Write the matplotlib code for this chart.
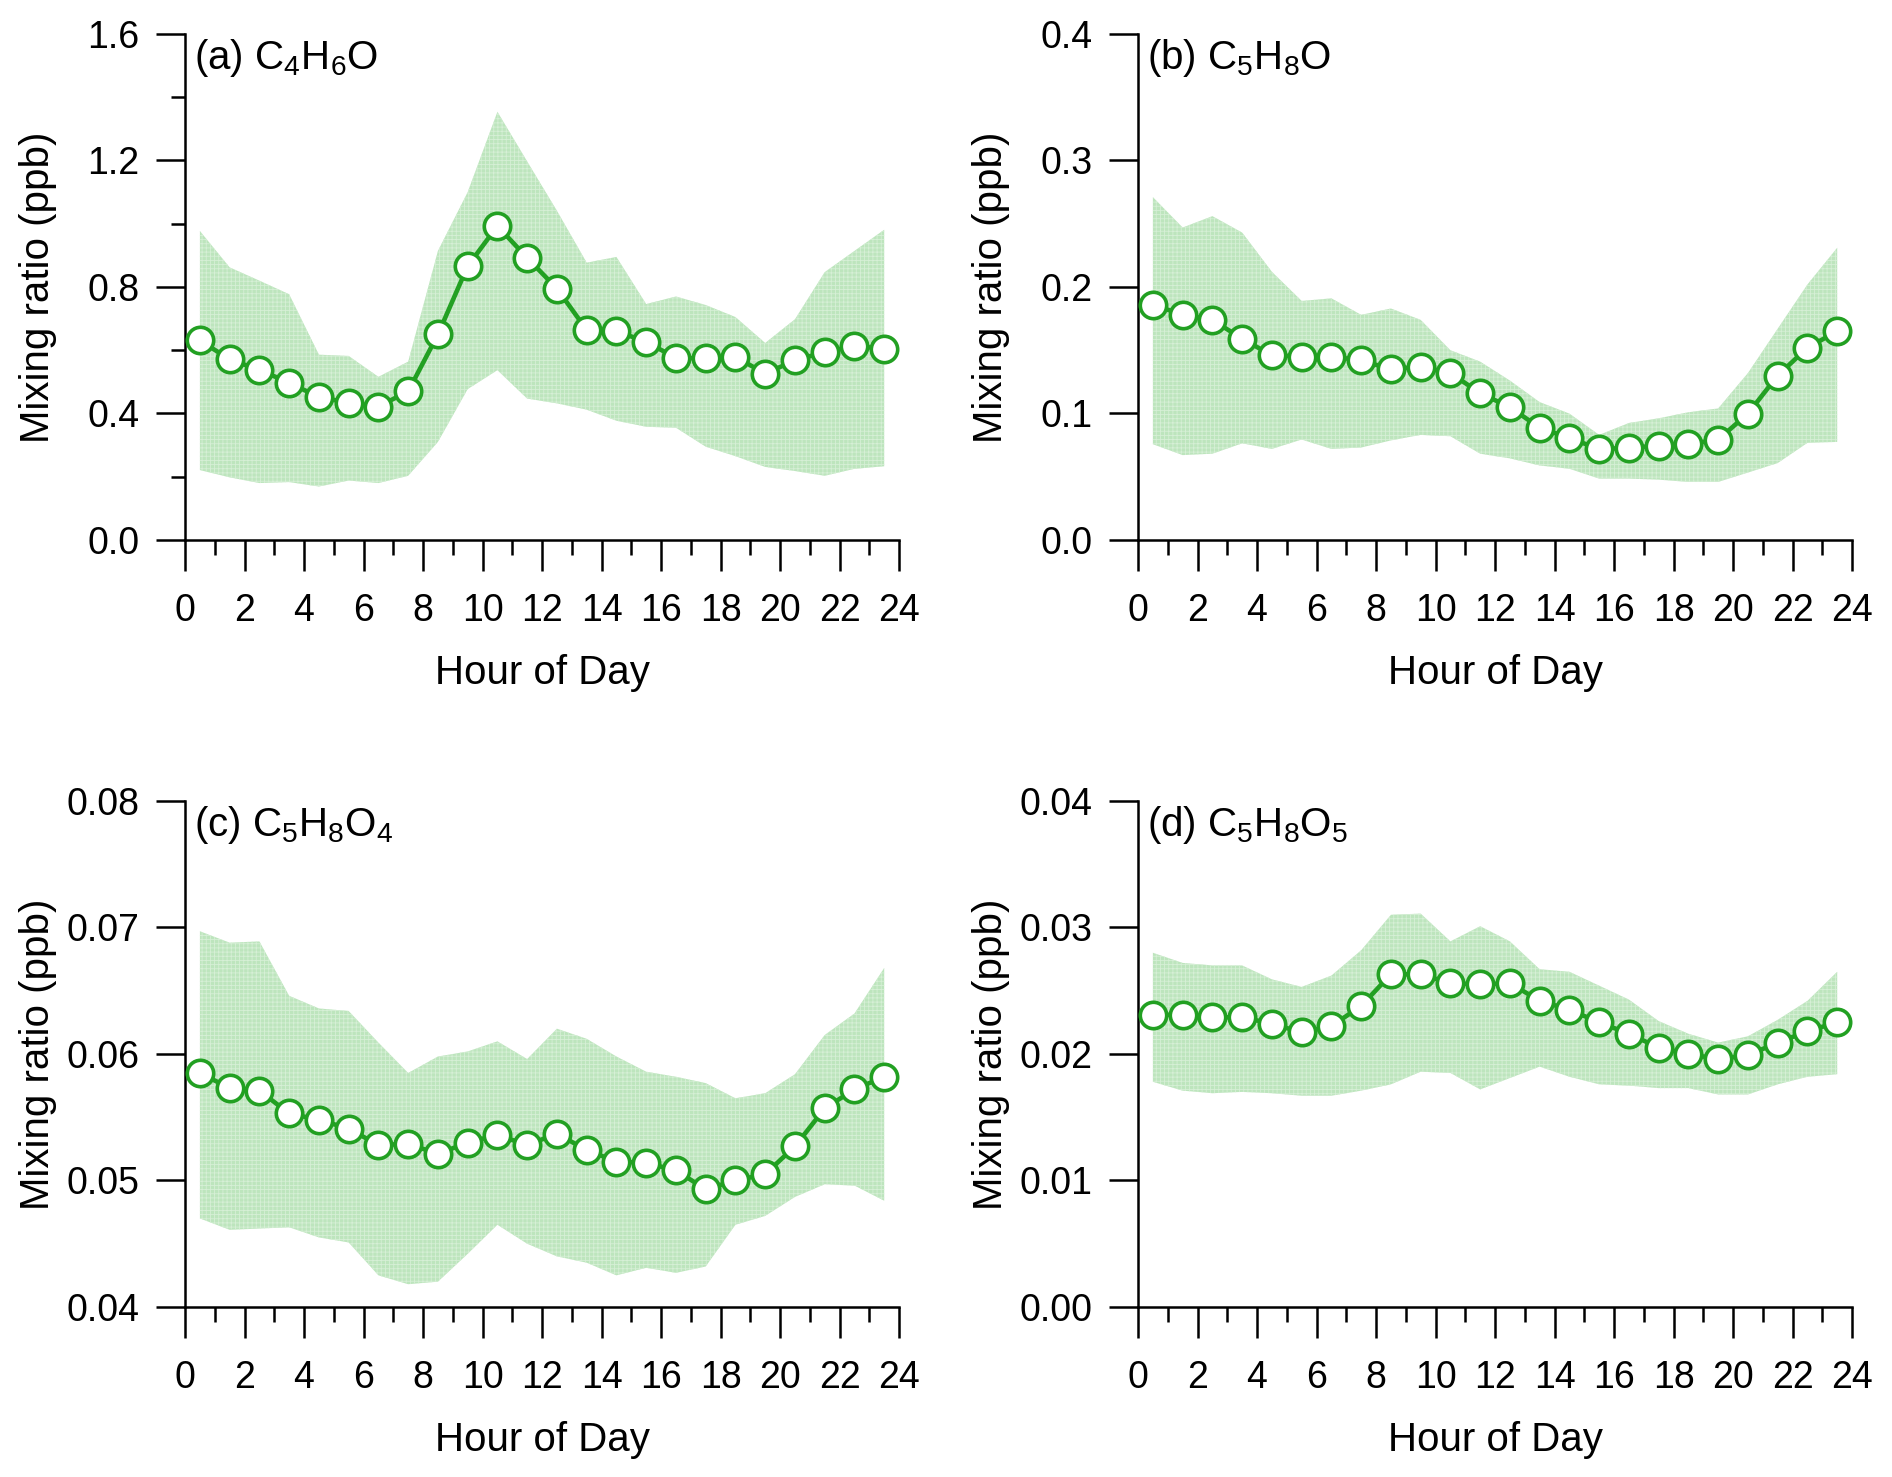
import numpy as np
import matplotlib
matplotlib.use("Agg")
import matplotlib.pyplot as plt
from matplotlib.ticker import MultipleLocator

plt.rcParams["font.family"] = ["Liberation Sans", "DejaVu Sans"]
plt.rcParams["mathtext.fontset"] = "custom"
plt.rcParams["mathtext.rm"] = "Liberation Sans"
plt.rcParams["mathtext.default"] = "regular"
plt.rcParams["hatch.linewidth"] = 0.6

hours = np.arange(24) + 0.5

# (a) C4H6O
a_mean = [0.631, 0.571, 0.538, 0.497, 0.452, 0.434, 0.422, 0.470, 0.650, 0.866, 0.993, 0.892,
          0.795, 0.664, 0.661, 0.626, 0.576, 0.574, 0.579, 0.526, 0.568, 0.594, 0.613, 0.605]
a_high = [0.977, 0.862, 0.820, 0.777, 0.586, 0.582, 0.516, 0.564, 0.914, 1.100, 1.354, 1.197,
          1.041, 0.877, 0.895, 0.746, 0.770, 0.743, 0.705, 0.623, 0.698, 0.847, 0.914, 0.981]
a_low = [0.221, 0.198, 0.180, 0.183, 0.169, 0.188, 0.180, 0.203, 0.310, 0.477, 0.537, 0.447,
         0.432, 0.412, 0.377, 0.358, 0.355, 0.295, 0.265, 0.231, 0.218, 0.203, 0.225, 0.233]

# (b) C5H8O
b_mean = [0.186, 0.178, 0.174, 0.159, 0.146, 0.145, 0.145, 0.142, 0.135, 0.137, 0.132, 0.116,
          0.105, 0.0887, 0.0805, 0.072, 0.0727, 0.0746, 0.0757, 0.0794, 0.0999, 0.130, 0.152, 0.165]
b_high = [0.271, 0.247, 0.256, 0.243, 0.212, 0.189, 0.191, 0.178, 0.183, 0.174, 0.150, 0.141,
          0.126, 0.109, 0.0999, 0.0831, 0.0925, 0.0962, 0.101, 0.104, 0.132, 0.167, 0.202, 0.231]
b_low = [0.0757, 0.0671, 0.0682, 0.0764, 0.072, 0.0794, 0.072, 0.0731, 0.0787, 0.0831, 0.082, 0.0682,
         0.0645, 0.0589, 0.0563, 0.0485, 0.0485, 0.0477, 0.0459, 0.0459, 0.0533, 0.0608, 0.0768, 0.0775]

# (c) C5H8O4
c_mean = [0.0585, 0.0573, 0.0571, 0.0553, 0.0548, 0.0541, 0.0528, 0.0529, 0.0521, 0.0530, 0.0536, 0.0528,
          0.0537, 0.0524, 0.0515, 0.0514, 0.0508, 0.0493, 0.0500, 0.0505, 0.0527, 0.0557, 0.0572, 0.0582]
c_high = [0.0697, 0.0688, 0.0689, 0.0646, 0.0636, 0.0634, 0.0609, 0.0585, 0.0598, 0.0602, 0.0610, 0.0596,
          0.0620, 0.0612, 0.0598, 0.0586, 0.0582, 0.0577, 0.0565, 0.0569, 0.0584, 0.0615, 0.0632, 0.0668]
c_low = [0.0470, 0.0461, 0.0462, 0.0463, 0.0455, 0.0451, 0.0425, 0.0418, 0.0420, 0.0442, 0.0465, 0.0450,
         0.0440, 0.0435, 0.0425, 0.0431, 0.0427, 0.0432, 0.0465, 0.0472, 0.0487, 0.0497, 0.0496, 0.0484]

# (d) C5H8O5
d_mean = [0.0231, 0.0231, 0.0229, 0.0229, 0.0224, 0.0217, 0.0222, 0.0238, 0.0263, 0.0263, 0.0256, 0.0255,
          0.0256, 0.0242, 0.0235, 0.0225, 0.0216, 0.0205, 0.0200, 0.0196, 0.0199, 0.0209, 0.0218, 0.0225]
d_high = [0.0280, 0.0272, 0.0270, 0.0270, 0.0259, 0.0253, 0.0262, 0.0282, 0.0310, 0.0311, 0.0289, 0.0301,
          0.0289, 0.0267, 0.0265, 0.0254, 0.0243, 0.0226, 0.0216, 0.0209, 0.0214, 0.0227, 0.0242, 0.0265]
d_low = [0.0178, 0.0171, 0.0169, 0.0170, 0.0169, 0.0167, 0.0167, 0.0171, 0.0176, 0.0186, 0.0185, 0.0172,
         0.0181, 0.0190, 0.0182, 0.0176, 0.0175, 0.0173, 0.0173, 0.0168, 0.0168, 0.0176, 0.0182, 0.0184]

labels = [r"(a) C$_4$H$_6$O", r"(b) C$_5$H$_8$O", r"(c) C$_5$H$_8$O$_4$", r"(d) C$_5$H$_8$O$_5$"]
ylims = [(0, 1.6), (0, 0.4), (0.04, 0.08), (0, 0.04)]
ymajor = [0.4, 0.1, 0.01, 0.01]
yminor = [0.2, None, None, None]
yfmt = ["%.1f", "%.1f", "%.2f", "%.2f"]

series = [(a_mean, a_low, a_high), (b_mean, b_low, b_high),
          (c_mean, c_low, c_high), (d_mean, d_low, d_high)]

LINE = "#22a022"
FILL = "#bde5bd"

fig = plt.figure(figsize=(18.92, 14.77), dpi=100)
positions = [[0.0978, 0.6344, 0.3774, 0.3426], [0.6015, 0.6344, 0.3774, 0.3426],
             [0.0978, 0.1151, 0.3774, 0.3426], [0.6015, 0.1151, 0.3774, 0.3426]]

for i in range(4):
    ax = fig.add_axes(positions[i])
    mean, low, high = series[i]
    ax.fill_between(hours, low, high, facecolor=FILL, edgecolor="#d6efd6",
                    hatch="++++", linewidth=0, zorder=1)
    ax.plot(hours, mean, "-", color=LINE, lw=3.3, zorder=2)
    ax.plot(hours, mean, "o", ms=19, mfc="white", mec=LINE, mew=2.6, zorder=3)

    ax.set_xlim(0, 24)
    ax.set_ylim(*ylims[i])
    ax.xaxis.set_major_locator(MultipleLocator(2))
    ax.xaxis.set_minor_locator(MultipleLocator(1))
    ax.yaxis.set_major_locator(MultipleLocator(ymajor[i]))
    if yminor[i]:
        ax.yaxis.set_minor_locator(MultipleLocator(yminor[i]))
    ax.yaxis.set_major_formatter(plt.FormatStrFormatter(yfmt[i]))

    for s in ["top", "right"]:
        ax.spines[s].set_visible(False)
    for s in ["left", "bottom"]:
        ax.spines[s].set_linewidth(1.8)

    ax.tick_params(axis="x", which="major", length=22, width=1.8, pad=16, labelsize=27)
    ax.tick_params(axis="x", which="minor", length=11, width=1.8)
    ax.tick_params(axis="y", which="major", length=21, width=1.8, pad=12, labelsize=27)
    ax.tick_params(axis="y", which="minor", length=10, width=1.8)

    ax.set_xlabel("Hour of Day", fontsize=29, labelpad=18)
    ax.set_ylabel("Mixing ratio (ppb)", fontsize=29)
    ax.yaxis.set_label_coords(-0.179, 0.5)

    ax.text(0.012, 0.995, labels[i], transform=ax.transAxes, ha="left", va="top", fontsize=29)

fig.savefig("out.png", dpi=100)
